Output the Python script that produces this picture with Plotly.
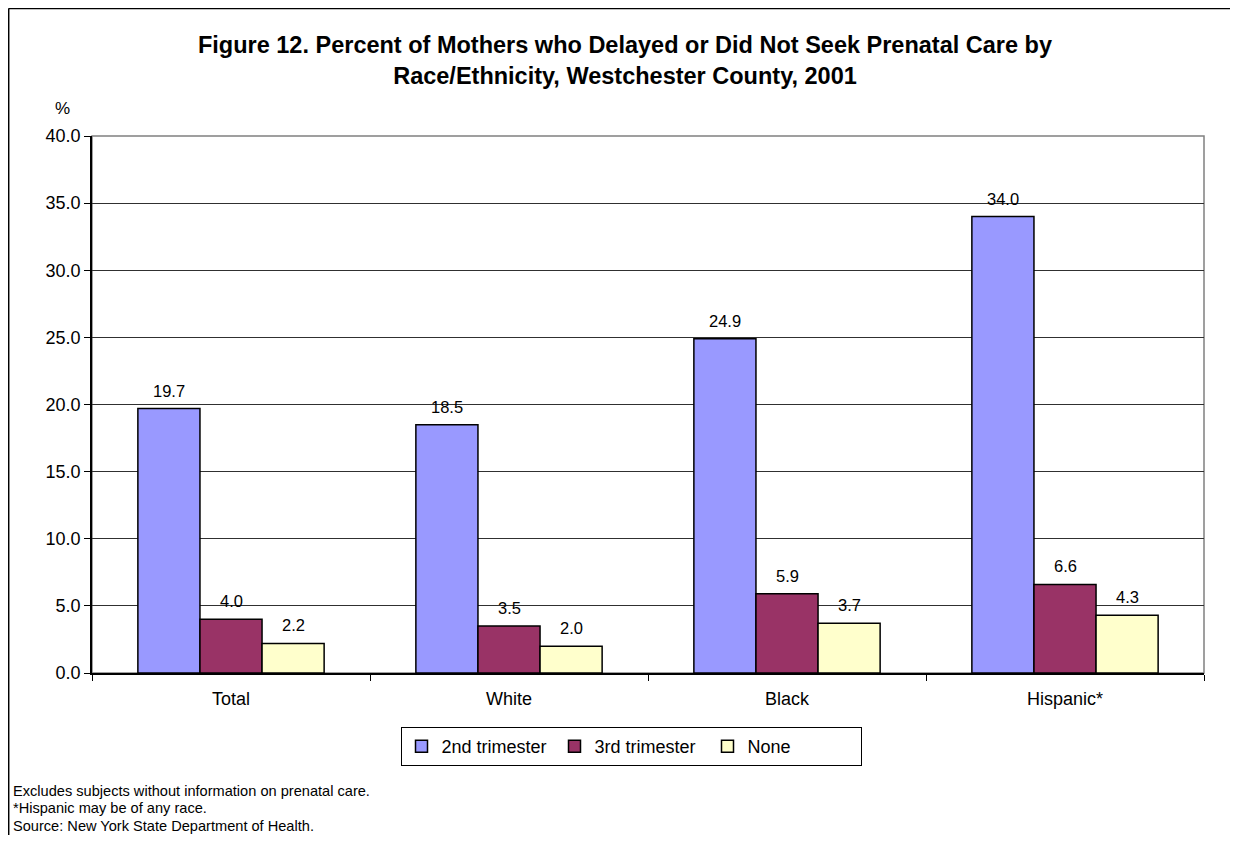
import plotly.graph_objects as go

categories = ["Total", "White", "Black", "Hispanic*"]
series_names = ["2nd trimester", "3rd trimester", "None"]
second_tri = [19.7, 18.5, 24.9, 34.0]
third_tri = [4.0, 3.5, 5.9, 6.6]
none_care = [2.2, 2.0, 3.7, 4.3]
colors = ["#9999FF", "#993366", "#FFFFCC"]
y_ticks = [0, 5, 10, 15, 20, 25, 30, 35, 40]
footnotes = [
    "Excludes subjects without information on prenatal care.",
    "*Hispanic may be of any race.",
    "Source: New York State Department of Health.",
]

# page body has an 8px margin; figure coordinates = screen - 8
OFF = 8
W, H = 1238 - 2 * OFF, 843 - 2 * OFF
L, R, T, B = 92 - OFF, 1204 - OFF, 136 - OFF, 673 - OFF
pw, ph = R - L, B - T
BARGAP = 0.33

def px(x):
    return (x - OFF - L) / pw

def py(y):
    return (B - (y - OFF)) / ph

FONT = "Liberation Sans, Arial, sans-serif"

fig = go.Figure()
all_series = [second_tri, third_tri, none_care]
for name, vals, col in zip(series_names, all_series, colors):
    fig.add_trace(go.Bar(
        x=categories, y=vals, name=name,
        marker=dict(color=col, line=dict(color="black", width=1.5)),
        cliponaxis=False,
    ))

# value labels above bars
cat_w = pw / len(categories)
bar_w = cat_w * (1 - BARGAP) / len(all_series)
annotations = []
for si, vals in enumerate(all_series):
    shift = (si - (len(all_series) - 1) / 2) * bar_w
    for c, v in zip(categories, vals):
        annotations.append(dict(
            x=c, y=v, xref="x", yref="y", text=f"{v:.1f}", showarrow=False,
            xanchor="center", yanchor="middle", xshift=shift, yshift=18,
            font=dict(size=16.5, color="black", family=FONT),
        ))

shapes = [
    dict(type="rect", xref="paper", yref="paper", x0=0, x1=1, y0=0, y1=1,
         line=dict(color="#808080", width=1.5), layer="below"),
    dict(type="line", xref="paper", yref="paper", x0=px(8.5), x1=px(1250),
         y0=py(8.6), y1=py(8.6), line=dict(color="black", width=1.5)),
    dict(type="line", xref="paper", yref="paper", x0=px(8.7), x1=px(8.7),
         y0=py(8.6), y1=py(860), line=dict(color="black", width=1.5)),
]

annotations.append(dict(text="%", xref="paper", yref="paper", x=px(62), y=py(108),
                        xanchor="center", yanchor="middle", showarrow=False,
                        font=dict(size=17, color="black", family=FONT)))
for i, t in enumerate(footnotes):
    annotations.append(dict(text=t, xref="paper", yref="paper", x=px(11), y=py(790.5 + 17.7 * i),
                            xanchor="left", yanchor="middle", showarrow=False,
                            font=dict(size=14.6, color="black", family=FONT)))

fig.update_layout(
    width=W, height=H,
    margin=dict(l=L, r=W - R, t=T, b=H - B, pad=0),
    paper_bgcolor="white", plot_bgcolor="white",
    font=dict(family=FONT, color="black", size=18),
    title=dict(
        text="<b>Figure 12. Percent of Mothers who Delayed or Did Not Seek Prenatal Care by<br>Race/Ethnicity, Westchester County, 2001</b>",
        xref="container", x=(625 - OFF) / W, xanchor="center",
        yref="container", y=1 - (53 - OFF) / H, yanchor="middle",
        font=dict(size=23.5, color="black", family=FONT),
    ),
    barmode="group", bargap=BARGAP, bargroupgap=0,
    xaxis=dict(
        type="category", showline=True, linecolor="black", linewidth=1.5,
        ticks="outside", tickson="boundaries", ticklen=6, tickcolor="black",
        tickfont=dict(size=18), showgrid=False, ticklabelstandoff=9,
    ),
    yaxis=dict(
        range=[0, 40], tickvals=y_ticks, tickformat=".1f",
        showline=True, linecolor="black", linewidth=1.5,
        ticks="outside", ticklen=6, tickcolor="black",
        showgrid=True, gridcolor="#303030", gridwidth=1,
        tickfont=dict(size=18), zeroline=False,
    ),
    legend=dict(
        orientation="h", x=px(631), xanchor="center", y=py(727), yanchor="top",
        bordercolor="black", borderwidth=1, bgcolor="white",
        font=dict(size=18, family=FONT), entrywidth=108, itemwidth=30,
        traceorder="normal",
    ),
    shapes=shapes, annotations=annotations, showlegend=True,
)

fig.write_html("out.html")
